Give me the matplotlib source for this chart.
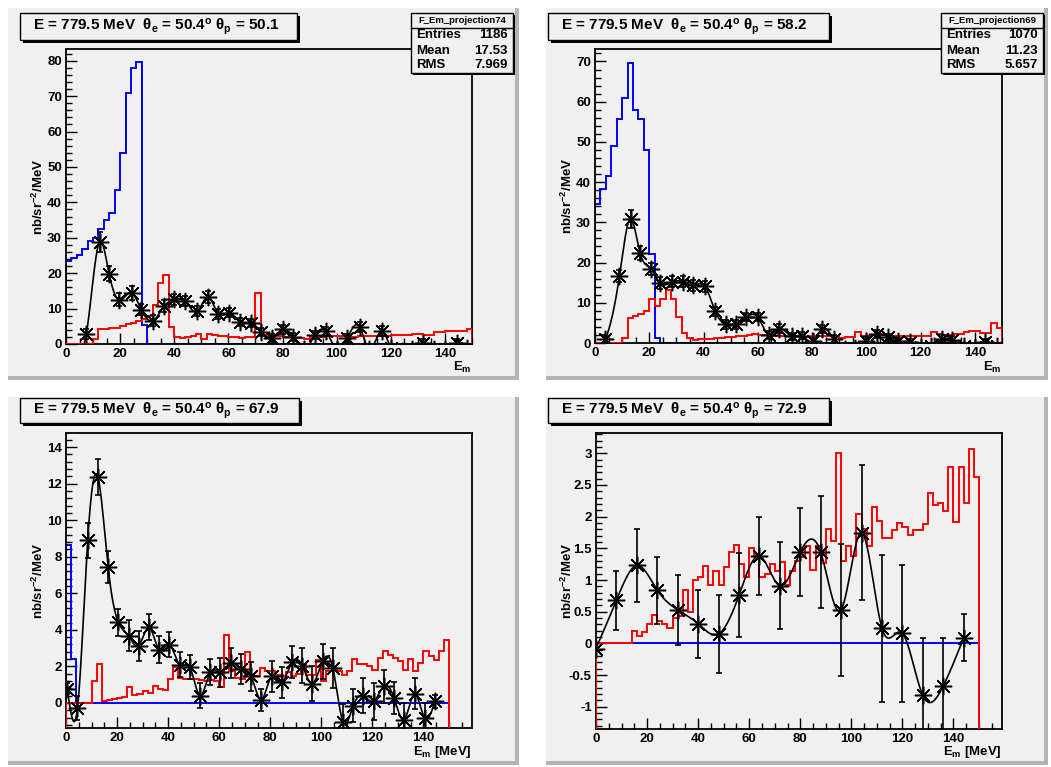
import numpy as np
import matplotlib
matplotlib.use("Agg")
import matplotlib.pyplot as plt
from matplotlib.patches import Rectangle
from matplotlib.ticker import MultipleLocator, FuncFormatter

plt.rcParams['font.family'] = ['Liberation Sans', 'DejaVu Sans']
plt.rcParams['font.weight'] = 'bold'
plt.rcParams['mathtext.fontset'] = 'custom'
plt.rcParams['mathtext.rm'] = 'Liberation Sans:bold'
plt.rcParams['mathtext.it'] = 'Liberation Sans:bold'
plt.rcParams['mathtext.bf'] = 'Liberation Sans:bold'
plt.rcParams['mathtext.sf'] = 'Liberation Sans:bold'

# ---------------- data ----------------
bin_edges = np.arange(0, 152, 2)   # 75 bins, 2 MeV wide

theta_p = ["50.1", "58.2", "67.9", "72.9"]

# top-left (theta_p = 50.1)
tl_blue = [23.5, 24.3, 25, 26.7, 29, 30, 32.5, 35, 37, 43.5, 54, 71, 78, 79.5, 5.5] + [0] * 60
tl_red = [0, 0, 0, 0, 0, 1.4, 4.3, 4.3, 4.4, 4.6, 5.2, 5.6, 6.0, 6.5, 7.2, 8.0, 11.0, 17.3, 19.5, 4.7,
          1.9, 1.8, 2.0, 2.3, 2.9, 1.5, 2.7, 2.6, 2.4, 2.3, 2.0, 1.9, 1.8, 2.0, 2.1, 14.5, 2.6, 2.2, 2.2, 2.2,
          2.0, 2.0, 1.7, 1.6, 1.4, 2.0, 2.0, 2.0, 2.2, 2.2, 2.2, 2.2, 2.0, 2.0, 2.4, 2.4, 2.4, 2.2, 2.2, 2.2,
          2.6, 2.6, 2.6, 2.6, 2.8, 2.8, 2.6, 2.6, 3.4, 3.4, 3.8, 3.8, 3.8, 3.8, 4.1]
tl_x = [4, 7.5, 12.4, 15.9, 19.5, 24.3, 27.8, 32.1, 36.3, 40, 44, 48.5, 52.5, 56.3, 60.3, 64.3, 68.5, 72,
        76, 80, 84, 88, 92, 96, 100, 104, 108.5, 112, 116.7, 120, 124, 128, 132, 136, 140, 144.5, 148]
tl_y = [-3, 2.8, 28.9, 19.9, 12.5, 14.4, 9.7, 6.6, 10.7, 12.6, 12.1, 9.2, 13.3, 8.5, 8.8, 6.2, 5.9, 3.5,
        1.8, 4.1, 1.9, -1.5, 2.5, 3.6, -1.5, 1.8, 4.8, -1.5, 3.7, -1.0, -2.0, -1.5, 0.3, -1.5, -1.5, 0.3, -1.0]
tl_err = [1.0, 1.3, 2.8, 2.1, 1.9, 1.9, 1.6, 1.5, 1.8, 1.6, 1.5, 1.4, 1.6, 1.3, 1.3, 1.2, 1.2, 1.1,
          1.1, 1.2, 1.1, 1.0, 1.2, 1.2, 1.0, 1.1, 1.4, 1.0, 1.3, 1.0, 1.0, 1.0, 1.0, 1.0, 1.0, 1.0, 1.0]

# top-right (theta_p = 58.2)
tr_blue = [34.6, 38.3, 41.5, 49, 55.7, 60.8, 69.7, 58, 55.7, 48, 22.2, 1.2] + [0] * 63
tr_red = [0, 0, 0, 0, 0, 1.3, 6.2, 6.8, 7.2, 8.0, 11.0, 9.3, 11.0, 13.2, 11.0, 6.5, 2.5, 1.2, 0.8, 1.0,
          1.1, 1.1, 1.25, 1.25, 1.5, 1.5, 1.8, 1.8, 2.1, 2.3, 2.1, 2.1, 1.8, 1.8, 1.65, 1.65, 1.65, 1.65, 1.5, 1.5,
          1.8, 1.8, 1.8, 1.8, 1.5, 1.25, 1.5, 1.5, 2.65, 1.8, 1.8, 2.1, 2.1, 1.9, 1.65, 1.65, 1.65, 1.65, 1.65, 1.65,
          1.8, 1.8, 2.7, 2.2, 2.1, 2.1, 2.3, 2.3, 2.65, 2.9, 2.9, 2.5, 2.5, 5.0, 3.7]
tr_x = [0, 3.8, 9.0, 13.2, 16.6, 20.7, 24.0, 28.3, 32.6, 36.3, 40.6, 44.3, 48.1, 52.0, 55.8, 60.0, 64.0,
        67.7, 72.5, 76.2, 80.4, 83.6, 87.9, 92, 96, 99.7, 103.9, 108.0, 111.8, 116.2, 120, 124, 127.9, 131.6,
        136, 140, 143.8, 148]
tr_y = [-2, 1.0, 16.6, 30.9, 22.4, 18.4, 14.9, 15.2, 15.2, 14.3, 14.1, 7.9, 4.6, 4.6, 6.4, 6.4, 2.1, 3.6,
        1.7, 1.8, 0.4, 3.5, 1.1, -1.5, -1.2, 0.5, 2.3, 1.4, 0.4, 0.2, -1.0, -0.8, 1.0, 0.8, -0.8, -1.0, 0.2, -0.8]
tr_err = [1.0, 1.0, 1.5, 2.2, 1.8, 1.6, 1.4, 1.4, 1.4, 1.3, 1.3, 1.1, 1.0, 1.0, 1.0, 1.0, 1.0, 1.0, 0.9,
          0.9, 0.9, 0.9, 0.9, 0.9, 0.9, 0.9, 1.0, 0.9, 0.9, 0.9, 0.9, 0.9, 0.9, 0.9, 0.9, 0.9, 0.9, 0.9]

# bottom-left (theta_p = 67.9)
bl_blue = [8.62, 2.4] + [0] * 73
bl_red = [0, 0, 0, 0, 0, 1.22, 2.13, 0.09, 0.15, 0.22, 0.27, 0.3, 0.87, 0.42, 0.51, 0.67, 0.55, 0.91, 0.77, 0.69,
          1.33, 1.95, 1.35, 1.3, 1.3, 1.3, 1.25, 1.2, 1.25, 1.2, 0.87, 3.7, 1.77, 1.37, 1.33, 2.79, 1.46, 1.46, 1.91, 1.73,
          1.73, 1.55, 1.46, 1.7, 1.46, 1.6, 2.13, 1.51, 1.55, 2.37, 1.18, 1.75, 1.91, 1.75, 1.51, 1.75, 2.42, 2.13, 2.13, 2.0,
          1.82, 2.46, 2.82, 2.64, 2.46, 2.28, 1.82, 2.42, 1.73, 2.19, 2.82, 2.55, 2.37, 2.82, 3.43]
bl_x = [0.5, 4.5, 8.5, 12.5, 16.5, 20.5, 24.5, 28.5, 32.5, 36.5, 40.5, 44.5, 48.5, 52.5, 56.5, 60.5, 64.5,
        68.5, 72.5, 76.5, 80.5, 84.5, 88.5, 92.5, 96.5, 100.5, 104.5, 108.5, 112.5, 116.5, 120.5, 124.5, 128.5,
        132.5, 136.5, 140.5, 144.5]
bl_y = [0.78, -0.27, 8.9, 12.36, 7.42, 4.41, 3.68, 3.14, 4.14, 2.92, 3.19, 2.1, 1.97, 0.4, 1.68, 1.68, 2.19,
        1.86, 1.46, 0.18, 1.46, 1.13, 2.22, 2.04, 1.06, 2.28, 1.91, -1.04, -0.15, 0.4, 0.09, 0.91, 0.27,
        -0.91, 0.51, -0.82, 0.09]
bl_err = [0.3, 0.65, 0.95, 0.97, 0.87, 0.73, 0.86, 0.82, 0.7, 0.75, 0.7, 0.7, 0.65, 0.7, 0.7, 0.8, 0.8,
          0.8, 0.8, 0.6, 0.85, 0.85, 0.87, 0.95, 0.95, 0.97, 1.1, 1.0, 0.9, 0.96, 1.0, 0.9, 0.9, 0.9, 0.85,
          0.8, 0.35]

# bottom-right (theta_p = 72.9)
br_blue = [0] * 75
br_red = [0, 0, 0, 0, 0, 0, 0, 0.2, 0.12, 0.18, 0.3, 0.45, 0.35, 0.3, 0.25, 0.4, 0.43, 0.85, 0.5, 1.0,
          1.05, 1.22, 0.92, 1.15, 0.92, 1.2, 1.45, 1.56, 1.25, 1.05, 1.5, 1.4, 1.05, 1.1, 1.25, 1.15, 1.29, 0.92, 1.15, 1.3,
          1.37, 1.53, 1.16, 1.53, 1.27, 1.8, 1.62, 3.01, 1.3, 1.54, 1.38, 2.04, 1.8, 1.53, 2.15, 1.93, 1.66, 1.66, 1.79, 1.9,
          1.84, 1.71, 1.79, 1.79, 1.88, 2.37, 2.19, 2.21, 2.09, 2.79, 1.92, 2.78, 2.21, 3.06, 2.63]
br_x = [0, 8, 16, 24, 32, 40, 48, 56, 64, 72, 80, 88, 96, 104, 112, 120, 128, 136, 144]
br_y = [-0.08, 0.68, 1.23, 0.84, 0.53, 0.31, 0.15, 0.76, 1.38, 0.91, 1.44, 1.44, 0.53, 1.75, 0.24, 0.16,
        -0.82, -0.67, 0.09]
br_err = [0.0, 0.47, 0.57, 0.53, 0.55, 0.54, 0.62, 0.66, 0.61, 0.69, 0.69, 0.88, 1.04, 1.07, 1.16, 1.08,
          0.9, 0.75, 0.37]

stats_names = ["F_Em_projection74", "F_Em_projection69"]
stats_entries = ["1186", "1070"]
stats_mean = ["17.53", "11.23"]
stats_rms = ["7.969", "5.657"]

# ---------------- layout ----------------
W, H = 1051, 767
PAD = '#f0f0f0'
fig = plt.figure(figsize=(W / 100, H / 100), dpi=100)
fig.patch.set_facecolor('white')


def fr(x0, y0, x1, y1):
    return [x0 / W, 1 - y1 / H, (x1 - x0) / W, (y1 - y0) / H]


def rect_px(x0, y0, x1, y1, **kw):
    r = Rectangle((x0 / W, 1 - y1 / H), (x1 - x0) / W, (y1 - y0) / H,
                  transform=fig.transFigure, **kw)
    fig.add_artist(r)
    return r


def ftext(x, y, s, **kw):
    return fig.text(x / W, 1 - y / H, s, **kw)


def spline(x, y, n=24):
    x = np.asarray(x, float)
    y = np.asarray(y, float)
    m = len(x)
    h = np.diff(x)
    A = np.zeros((m, m))
    b = np.zeros(m)
    A[0, 0] = A[-1, -1] = 1
    for i in range(1, m - 1):
        A[i, i - 1] = h[i - 1]
        A[i, i] = 2 * (h[i - 1] + h[i])
        A[i, i + 1] = h[i]
        b[i] = 3 * ((y[i + 1] - y[i]) / h[i] - (y[i] - y[i - 1]) / h[i - 1])
    c = np.linalg.solve(A, b)
    xs, ys = [], []
    for i in range(m - 1):
        t = np.linspace(0, h[i], n, endpoint=False)
        bb = (y[i + 1] - y[i]) / h[i] - h[i] * (2 * c[i] + c[i + 1]) / 3
        d = (c[i + 1] - c[i]) / (3 * h[i])
        xs.append(x[i] + t)
        ys.append(y[i] + bb * t + c[i] * t ** 2 + d * t ** 3)
    xs.append([x[-1]])
    ys.append([y[-1]])
    return np.concatenate(xs), np.concatenate(ys)


fmt = FuncFormatter(lambda v, p: "0" if abs(v) < 1e-9 else f"{v:g}")

panels = [
    dict(pad=(8, 8, 519, 380), frame=(66, 49, 472, 344), xlim=(0, 150), ylim=(0, 83.3),
         ymaj=10, ymin=2, blue=tl_blue, red=tl_red, gx=tl_x, gy=tl_y, ge=tl_err,
         title=(20, 13, 297, 40), xlabel=r"E$_{m}$", xl_y=367, stat=0),
    dict(pad=(546, 8, 1048, 380), frame=(595, 49, 1002, 343), xlim=(0, 150), ylim=(0, 73.1),
         ymaj=10, ymin=2, blue=tr_blue, red=tr_red, gx=tr_x, gy=tr_y, ge=tr_err,
         title=(548, 13, 829, 40), xlabel=r"E$_{m}$", xl_y=367, stat=1),
    dict(pad=(8, 397, 519, 765), frame=(66, 433, 472, 728), xlim=(0, 159), ylim=(-1.37, 14.77),
         ymaj=2, ymin=0.4, blue=bl_blue, red=bl_red, gx=bl_x, gy=bl_y, ge=bl_err,
         title=(20, 398, 299, 423), xlabel=r"E$_{m}$ [MeV]", xl_y=752, stat=None),
    dict(pad=(546, 397, 1048, 765), frame=(596, 433, 1002, 729), xlim=(0, 159), ylim=(-1.35, 3.32),
         ymaj=0.5, ymin=0.1, blue=br_blue, red=br_red, gx=br_x, gy=br_y, ge=br_err,
         title=(548, 398, 829, 423), xlabel=r"E$_{m}$ [MeV]", xl_y=752, stat=None),
]

for k, P in enumerate(panels):
    x0, y0, x1, y1 = P['pad']
    rect_px(x0, y0, x1, y1, facecolor=PAD, edgecolor='none', zorder=-10)
    rect_px(x0, y1 - 4, x1, y1, facecolor='#b4b4b4', edgecolor='none', zorder=-9)
    rect_px(x1 - 4, y0, x1, y1, facecolor='#b4b4b4', edgecolor='none', zorder=-9)

    ax = fig.add_axes(fr(*P['frame']))
    ax.set_facecolor(PAD)
    ymin_ = P['ylim'][0]
    ax.stairs(P['blue'], bin_edges, baseline=ymin_, color='#0000ff', lw=1.4, zorder=2)
    ax.stairs(P['red'], bin_edges, baseline=ymin_, color='#ff0000', lw=1.4, zorder=3)
    sx, sy = spline(P['gx'], P['gy'])
    ax.plot(sx, sy, color='black', lw=1.2, zorder=4)
    ax.errorbar(P['gx'], P['gy'], yerr=P['ge'], fmt='none', ecolor='black',
                elinewidth=1.2, capsize=2.5, capthick=1.2, zorder=5)
    ax.plot(P['gx'], P['gy'], ls='none', marker=(8, 2, 0), ms=12.5, mew=1.1,
            color='black', zorder=6)
    ax.set_xlim(*P['xlim'])
    ax.set_ylim(*P['ylim'])
    ax.xaxis.set_major_locator(MultipleLocator(20))
    ax.xaxis.set_minor_locator(MultipleLocator(5))
    ax.yaxis.set_major_locator(MultipleLocator(P['ymaj']))
    ax.yaxis.set_minor_locator(MultipleLocator(P['ymin']))
    ax.yaxis.set_major_formatter(fmt)
    ax.xaxis.set_major_formatter(fmt)
    ax.tick_params(which='major', direction='in', length=8, width=1.0, top=False, right=False,
                   labelsize=9.5, pad=3)
    ax.tick_params(which='minor', direction='in', length=4, width=1.0, top=False, right=False)
    for lab in ax.get_xticklabels() + ax.get_yticklabels():
        lab.set_fontweight('bold')
    for sp in ax.spines.values():
        sp.set_linewidth(1.3)

    fx0, fy0, fx1, fy1 = P['frame']
    ftext(38 if k % 2 == 0 else 567, (fy0 + fy1) / 2, r"nb/sr$^{-2}$/MeV", rotation=90,
          ha='center', va='center', fontsize=9.5, fontweight='bold')
    ftext(fx1, P['xl_y'], P['xlabel'], ha='right', va='center', fontsize=9.5, fontweight='bold')

    # title box
    tx0, ty0, tx1, ty1 = P['title']
    rect_px(tx0 + 3, ty0 + 3, tx1 + 3, ty1 + 3, facecolor='black', edgecolor='none', zorder=5)
    rect_px(tx0, ty0, tx1, ty1, facecolor=PAD, edgecolor='black', lw=1.0, zorder=6)
    ftext(tx0 + 13, (ty0 + ty1) / 2,
          r"E = 779.5 MeV  $\theta_{e}$ = 50.4$^{o}$ $\theta_{p}$ = " + theta_p[k],
          ha='left', va='center', fontsize=11, fontweight='bold', zorder=7)

    # stats box
    if P['stat'] is not None:
        s = P['stat']
        sx0, sy0 = fx1 - 61, 13
        sx1, sy1 = fx1 + 41, 73
        rect_px(sx0 + 2, sy0 + 2, sx1 + 2, sy1 + 2, facecolor='black', edgecolor='none', zorder=5)
        rect_px(sx0, sy0, sx1, sy1, facecolor=PAD, edgecolor='black', lw=1.0, zorder=6)
        fig.add_artist(plt.Line2D([sx0 / W, sx1 / W], [1 - 28 / H, 1 - 28 / H],
                                  transform=fig.transFigure, color='black', lw=1.0, zorder=7))
        ftext((sx0 + sx1) / 2, 20.5, stats_names[s], ha='center', va='center',
              fontsize=6.8, fontweight='bold', zorder=7)
        for name, val, yy in [("Entries", stats_entries[s], 35),
                              ("Mean", stats_mean[s], 50.5),
                              ("RMS", stats_rms[s], 65)]:
            ftext(sx0 + 5, yy, name, ha='left', va='center', fontsize=9.5, fontweight='bold', zorder=7)
            ftext(sx1 - 5, yy, val, ha='right', va='center', fontsize=9.5, fontweight='bold', zorder=7)

fig.savefig("out.png", dpi=100, facecolor='white')
